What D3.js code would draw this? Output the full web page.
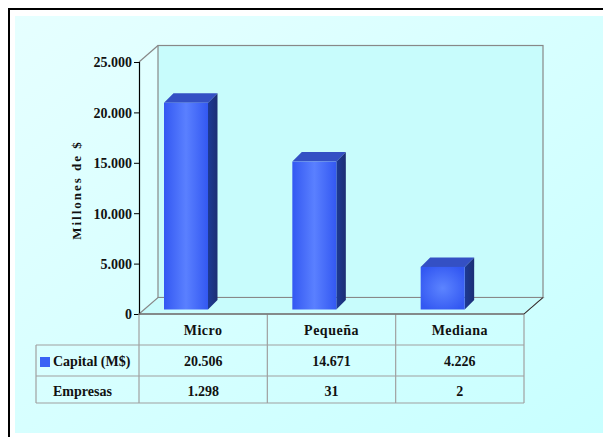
<!DOCTYPE html>
<html><head><meta charset="utf-8">
<script src="https://cdn.jsdelivr.net/npm/d3@7"></script>
<style>
html,body{margin:0;padding:0;background:#fff;overflow:hidden;}
svg{display:block;}
</style></head>
<body>
<script>
const categories = ["Micro", "Pequeña", "Mediana"];
const capital = [20506, 14671, 4226];
const empresas = [1298, 31, 2];
const capitalLabels = ["20.506", "14.671", "4.226"];
const empresasLabels = ["1.298", "31", "2"];
const yTicks = [0, 5000, 10000, 15000, 20000, 25000];
const rowNames = ["Capital (M$)", "Empresas"];

const FONT = "Liberation Serif";
const W = 603, H = 437;
const svg = d3.select("body").append("svg").attr("width", W).attr("height", H)
  .style("font-family", FONT).style("font-weight","bold");
const defs = svg.append("defs");

const bg = defs.append("linearGradient").attr("id","bg").attr("x1","0").attr("y1","0").attr("x2","1").attr("y2","1");
bg.append("stop").attr("offset","0").attr("stop-color","#e6ffff");
bg.append("stop").attr("offset","1").attr("stop-color","#c8ffff");

const front = defs.append("radialGradient").attr("id","front").attr("cx","0.5").attr("cy","0.5").attr("r","0.6");
front.append("stop").attr("offset","0").attr("stop-color","#5c84ff");
front.append("stop").attr("offset","1").attr("stop-color","#3358f2");
const frontTall = defs.append("linearGradient").attr("id","frontTall").attr("x1","0").attr("x2","1");
frontTall.append("stop").attr("offset","0").attr("stop-color","#3358f2");
frontTall.append("stop").attr("offset","0.5").attr("stop-color","#5a80ff");
frontTall.append("stop").attr("offset","1").attr("stop-color","#3358f2");
const side = defs.append("linearGradient").attr("id","side").attr("x1","0").attr("x2","1");
side.append("stop").attr("offset","0").attr("stop-color","#1d3a96");
side.append("stop").attr("offset","1").attr("stop-color","#1c2e74");

svg.append("rect").attr("x",9).attr("y",9).attr("width",W).attr("height",H).attr("fill","#fff").attr("stroke","#000").attr("stroke-width",2);
svg.append("rect").attr("x",15).attr("y",16).attr("width",W-15).attr("height",417).attr("fill","url(#bg)");

const x = d3.scaleBand().domain(categories).range([139, 524]).padding(0);
const y = d3.scaleLinear().domain([0, 25000]).range([314, 62]);
const dx = 19, dy = -16.5;
const x0 = x.range()[0], x1 = x.range()[1];

svg.append("rect").attr("x", x0+dx).attr("y", y(25000)+dy).attr("width", x1-x0).attr("height", y(0)-y(25000))
  .attr("fill","#c8fcfc").attr("stroke","#888").attr("stroke-width",1.2);
svg.append("path").attr("d", `M${x0},${y(0)}L${x0+dx},${y(0)+dy}L${x1+dx},${y(0)+dy}L${x1},${y(0)}Z`)
  .attr("fill","#c8fcfc").attr("stroke","#888").attr("stroke-width",1.2);
svg.append("line").attr("x1",x0).attr("y1",y(25000)).attr("x2",x0+dx).attr("y2",y(25000)+dy).attr("stroke","#888").attr("stroke-width",1.2);
svg.append("line").attr("x1",x1).attr("y1",y(0)).attr("x2",x1+dx).attr("y2",y(0)+dy).attr("stroke","#333").attr("stroke-width",1);

const bOff = 4.5, bW = 44, bD = 9.5, bLeft = 25;
const bars = svg.append("g");
categories.forEach((c,i)=>{
  const v = capital[i];
  const fx = x(c) + bLeft, base = y(0) - bOff, top = y(v) - bOff;
  const h = base - top;
  bars.append("path").attr("d",`M${fx+bW},${top}L${fx+bW+bD},${top-bD}L${fx+bW+bD},${base-bD}L${fx+bW},${base}Z`).attr("fill","url(#side)");
  bars.append("path").attr("d",`M${fx},${top}L${fx+bD},${top-bD}L${fx+bW+bD},${top-bD}L${fx+bW},${top}Z`).attr("fill","#3450c4");
  bars.append("rect").attr("x",fx).attr("y",top).attr("width",bW).attr("height",h).attr("fill", h>100 ? "url(#frontTall)" : "url(#front)");
});

const yAxis = d3.axisLeft(y).tickValues(yTicks).tickSize(5).tickPadding(2)
  .tickFormat(d => d3.format(",")(d).replace(/,/g,"."));
const ga = svg.append("g").attr("transform",`translate(${x0},0)`).call(yAxis);
ga.attr("font-family", FONT).attr("font-size",14);
ga.select(".domain").attr("stroke","#000").attr("stroke-width",1.2);
ga.selectAll(".tick line").attr("stroke","#000");
ga.selectAll(".tick text").attr("fill","#111").attr("dy","0.35em");

const txt = (xx, yy, s, anchor, size) => svg.append("text").attr("x",xx).attr("y",yy)
  .attr("text-anchor",anchor).attr("font-family",FONT).attr("font-weight","bold").attr("font-size",size).attr("fill","#111").text(s);

svg.append("text").attr("transform","translate(81,190) rotate(-90)").attr("text-anchor","middle")
  .attr("font-family",FONT).attr("font-weight","bold").attr("fill","#111")
  .attr("font-size",13).attr("letter-spacing",2).text("Millones de $");

const tl = 36, r0 = y(0), r1 = 345, r2 = 376, r3 = 403;
const g = svg.append("g").attr("stroke","#a0a0a0").attr("stroke-width",1.2);
[x0, ...categories.map(c=>x(c)+x.bandwidth())].forEach(xx=>{
  g.append("line").attr("x1",xx).attr("x2",xx).attr("y1",r0).attr("y2",r3);
});
g.append("line").attr("x1",tl).attr("x2",tl).attr("y1",r1).attr("y2",r3);
[r1,r2,r3].forEach(yy=> g.append("line").attr("x1",tl).attr("x2",x1).attr("y1",yy).attr("y2",yy));
svg.append("line").attr("x1",x0).attr("x2",x1).attr("y1",r0).attr("y2",r0).attr("stroke","#777").attr("stroke-width",1.5);

categories.forEach((c,i)=>{
  const cx = x(c)+x.bandwidth()/2;
  txt(cx, 335, c, "middle", 14).attr("letter-spacing",0.5);
  txt(cx, 366, capitalLabels[i], "middle", 14);
  txt(cx, 396, empresasLabels[i], "middle", 14);
});
svg.append("rect").attr("x",40).attr("y",357).attr("width",10).attr("height",10).attr("fill","#3a62f5");
txt(53, 366, rowNames[0], "start", 14);
txt(53, 396, rowNames[1], "start", 14);
</script>
</body></html>
